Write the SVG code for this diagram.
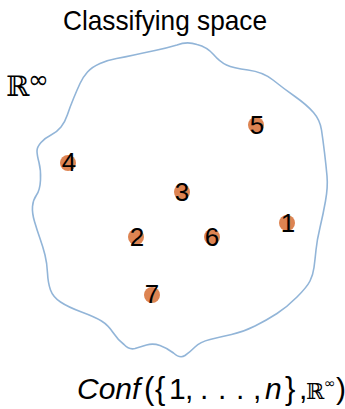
<svg xmlns="http://www.w3.org/2000/svg" width="345" height="409" viewBox="0 0 345 409">
<style>
.blob{fill:none;stroke:#92b5d8;stroke-width:1.6;stroke-linejoin:round}
.dot{fill:#dd8452}
.num{font-family:"Liberation Sans","DejaVu Sans",sans-serif;font-size:26px;fill:#000;text-anchor:middle}
.lbl{font-family:"Liberation Sans","DejaVu Sans",sans-serif;fill:#000}
.bb{font-family:"DejaVu Serif","DejaVu Sans",serif;fill:#000}
.sym{font-family:"DejaVu Sans",sans-serif;fill:#000}
</style>
<rect width="345" height="409" fill="#fff"/>
<text id="title" class="lbl" x="165" y="30" font-size="28" text-anchor="middle" textLength="204" lengthAdjust="spacingAndGlyphs">Classifying space</text>
<g id="rinf">
<text class="bb" x="6" y="96" font-size="28">ℝ</text>
<text class="sym" x="28" y="88" font-size="25">∞</text>
</g>
<g id="space">
<path class="blob" d="M 177,45 Q 187,41 197,44.5 Q 207,47 213.5,54.5 Q 220,62 226.5,65 Q 233,68 248,70 Q 263,72 273,80 Q 283,88 295,96.5 Q 307,105 313.5,112.5 Q 320,120 321.5,130 Q 323,140 324.5,152.5 Q 326,165 327,176 Q 328,187 325.5,201 Q 323,215 320,227.5 Q 317,240 316,250 Q 315,260 314,267.5 Q 313,275 310,281 Q 307,287 297,297 Q 287,307 277,313.5 Q 267,320 255,326 Q 243,332 231.5,334.5 Q 220,337 210,339.5 Q 200,342 195,347 Q 190,352 185,355.5 Q 180,359 173.5,353 Q 167,348 160,345.5 Q 153,343 146.5,345 Q 140,347 135,348.5 Q 129,350 124,344.5 Q 118,340 113,332.5 Q 108,325 101.5,321 Q 95,317 81.5,312 Q 68,307 60.5,302 Q 53,297 50.5,290 Q 48,283 47.5,273 Q 47,263 45,255 Q 43,247 40,238.5 Q 37,230 34.5,221.5 Q 32,213 32.5,206.5 Q 33,200 36.5,195 Q 40,190 40.5,180 Q 41,170 39,162.5 Q 37,155 37,151 Q 37,147 41,142.5 Q 45,138 51,135 Q 57,132 61,127 Q 65,122 67.5,114.5 Q 70,107 73.5,98.5 Q 77,90 80,83.5 Q 83,77 87.5,72 Q 92,67 100,63.5 Q 108,60 116.5,58.5 Q 125,57 134,55 Q 143,53 155,50.5 Q 167,48 177,45 Z"/>
</g>
<g id="n1"><circle class="dot" cx="287" cy="223" r="8"/><text class="num" x="288" y="232">1</text></g>
<g id="n2"><circle class="dot" cx="136" cy="237" r="8"/><text class="num" x="137" y="246">2</text></g>
<g id="n3"><circle class="dot" cx="182" cy="192" r="8"/><text class="num" x="182" y="201">3</text></g>
<g id="n4"><circle class="dot" cx="68" cy="163" r="8"/><text class="num" x="69" y="171">4</text></g>
<g id="n5"><circle class="dot" cx="256" cy="125" r="8"/><text class="num" x="257" y="134">5</text></g>
<g id="n6"><circle class="dot" cx="212" cy="237" r="8"/><text class="num" x="212" y="246">6</text></g>
<g id="n7"><circle class="dot" cx="152" cy="295" r="8"/><text class="num" x="152" y="303">7</text></g>
<g id="conf">
<text class="lbl" x="77" y="399" font-size="30" font-style="italic">Conf</text>
<text class="lbl" x="144" y="399" font-size="31">(</text>
<text class="lbl" x="155" y="399" font-size="31">{</text>
<text class="lbl" x="169" y="399" font-size="30">1</text>
<text class="lbl" x="185" y="399" font-size="30">,</text>
<text class="lbl" x="200" y="399" font-size="30">.</text>
<text class="lbl" x="218" y="399" font-size="30">.</text>
<text class="lbl" x="236" y="399" font-size="30">.</text>
<text class="lbl" x="253" y="399" font-size="30">,</text>
<text class="lbl" x="265" y="399" font-size="30" font-style="italic">n</text>
<text class="lbl" x="285" y="399" font-size="31">}</text>
<text class="lbl" x="299" y="399" font-size="30">,</text>
<text class="bb" x="306" y="399" font-size="22">ℝ</text>
<text class="sym" x="324" y="388" font-size="14">∞</text>
<text class="lbl" x="336" y="399" font-size="30">)</text>
</g>
</svg>
